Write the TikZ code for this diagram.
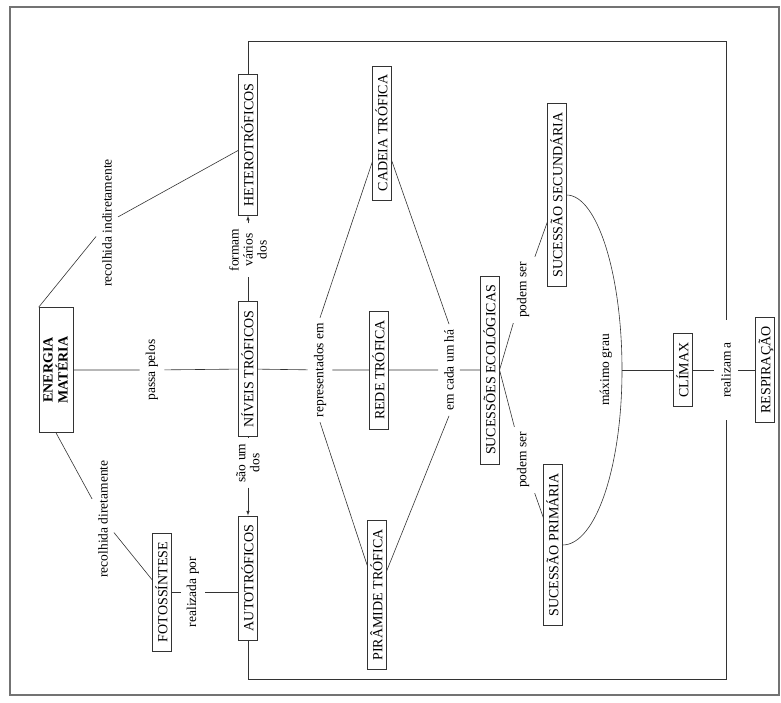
\documentclass[tikz,border=0pt]{standalone}
\usepackage{fontspec}
\setmainfont{Liberation Serif}
\usetikzlibrary{arrows}
\usetikzlibrary{positioning}

\tikzset{
  conceito/.style={draw=black!80, line width=0.6pt, font=\fontsize{14}{15}\selectfont,
    text height=11.5pt, text depth=1pt, inner xsep=9pt, inner ysep=3pt},
  ligacao/.style={font=\fontsize{13.5}{14}\selectfont, align=center, inner xsep=5pt, inner ysep=6pt},
  liga/.style={draw=black!80, line width=0.6pt},
  moldura/.style={draw=black!55, line width=1.3pt}
}

\begin{document}
\begin{tikzpicture}[x=1pt,y=1pt]

\useasboundingbox (0,0) rectangle (781,702);

        \draw[moldura] (10,7) rectangle (779,695);

\begin{scope}[rotate=90, transform shape]

        \node [conceito, draw=black!80, font=\fontsize{14}{15}\selectfont\bfseries, text height=, align=center,
               minimum width=125pt, minimum height=34pt, inner ysep=2pt] (energia) at (332,-56) {ENERGIA\\MATÉRIA};

        \node [conceito] (hetero) at (557,-248) {HETEROTRÓFICOS};
        \node [conceito] (niveis) at (333,-248) {NÍVEIS TRÓFICOS};
        \node [conceito] (autotro) at (124,-248) {AUTOTRÓFICOS};
        \node [conceito] (foto) at (110,-162) {FOTOSSÍNTESE};

        \node [conceito] (cadeia) at (569,-382) {CADEIA TRÓFICA};
        \node [conceito] (rede) at (332,-379) {REDE TRÓFICA};
        \node [conceito] (piram) at (107,-377) {PIRÂMIDE TRÓFICA};

        \node [conceito] (sucess) at (332,-490) {SUCESSÕES ECOLÓGICAS};
        \node [conceito] (secund) at (507,-557) {SUCESSÃO SECUNDÁRIA};
        \node [conceito] (prim) at (157,-553) {SUCESSÃO PRIMÁRIA};

        \node [conceito] (climax) at (332,-683) {CLÍMAX};
        \node [conceito] (resp) at (332,-765) {RESPIRAÇÃO};

%       frases de ligacao
        \node [ligacao] (indir) at (479,-107) {recolhida indiretamente};
        \node [ligacao] (dir) at (183,-103) {recolhida diretamente};
        \node [ligacao] (passa) at (332,-152) {passa pelos};
        \node [ligacao] (realiz) at (110,-193) {realizada por};
        \node [ligacao, inner ysep=2pt] (formam) at (452,-248) {formam\\vários\\dos};
        \node [ligacao, inner ysep=2pt] (saoum) at (239,-248) {são um\\dos};
        \node [ligacao] (repr) at (332,-320) {representados em};
        \node [ligacao] (emcada) at (332,-449) {em cada um há};
        \node [ligacao] (podem1) at (412,-523) {podem ser};
        \node [ligacao] (podem2) at (242,-523) {podem ser};
        \node [ligacao] (maxgrau) at (332,-606) {máximo grau};
        \node [ligacao, inner xsep=22pt, inner ysep=7pt] (realiza) at (332,-726) {realizam a};

        \coordinate (juncao) at (332,-622);
        \coordinate (topo) at (661,-726);
        \coordinate (base) at (23,-726);

        \draw[liga] (energia.north east) -- (indir) -- (hetero);
        \draw[liga] (energia.west) -- (dir) -- (foto);
        \draw[liga] (energia) -- (passa) -- (niveis);

        \draw[liga] (niveis) -- (formam);
        \draw[liga, -latex] (formam) -- (hetero);
        \draw[liga] (niveis) -- (saoum);
        \draw[liga, -latex] (saoum) -- (autotro);

        \draw[liga] (foto) -- (realiz) -- (realiz |- autotro.north);

        \draw[liga] (niveis) -- (repr) -- (rede) -- (emcada) -- (sucess);
        \draw[liga] (repr.east) -- (cadeia);
        \draw[liga] (repr.west) -- (piram);
        \draw[liga] (emcada.east) -- (cadeia);
        \draw[liga] (emcada.west) -- (piram);

        \draw[liga] (sucess.south) -- (podem1) -- (secund);
        \draw[liga] (sucess.south) -- (podem2) -- (prim);

        \draw[liga] (secund.south) to[out=-90, in=0, out looseness=0.42, in looseness=1.35] (juncao)
                                   to[out=180, in=-90, out looseness=1.34, in looseness=0.46] (prim.south);
        \draw[liga] (juncao) -- (climax) -- (realiza) -- (resp);

        \draw[liga] (hetero) -- (hetero -| topo) -- (topo) -- (realiza);
        \draw[liga] (autotro) -- (autotro -| base) -- (base) -- (realiza);

\end{scope}

\end{tikzpicture}
\end{document}
